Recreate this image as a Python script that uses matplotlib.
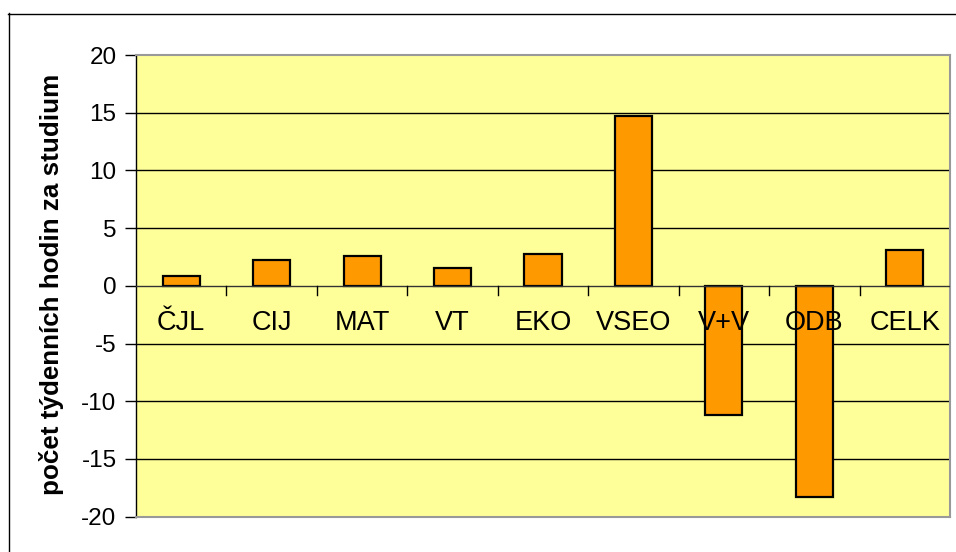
import matplotlib
matplotlib.use("Agg")
import matplotlib.pyplot as plt
from matplotlib.lines import Line2D

plt.rcParams['font.family'] = ['Liberation Sans', 'DejaVu Sans']

categories = ["ČJL", "CIJ", "MAT", "VT", "EKO", "VSEO", "V+V", "ODB", "CELK"]
values = [0.86, 2.25, 2.6, 1.55, 2.8, 14.7, -11.15, -18.3, 3.1]
yticks = [-20, -15, -10, -5, 0, 5, 10, 15, 20]
ylabel = "počet týdenních hodin za studium"

fig = plt.figure(figsize=(9.56, 5.52), dpi=100)
fig.patch.set_facecolor("white")

# outer chart frame (left and top visible)
fig.add_artist(Line2D([8.5/956, 8.5/956], [0, 1 - 13/552], color="black", lw=1.0))
fig.add_artist(Line2D([8/956, 1], [1 - 13.5/552, 1 - 13.5/552], color="black", lw=1.0))

ax = fig.add_axes([136/956, (552-516.7)/552, (950-136)/956, (516.7-55)/552])
ax.set_facecolor("#FFFF99")

x = list(range(len(categories)))
ax.set_xlim(-0.5, len(categories) - 0.5)
ax.set_ylim(-20, 20)

for g in [-15, -10, -5, 5, 10, 15]:
    ax.axhline(g, color="black", lw=1.0, zorder=1)

ax.bar(x, values, width=0.41, color="#FF9900", edgecolor="black", lw=1.6, zorder=3)

for s in ["top", "right"]:
    ax.spines[s].set_color("#999999")
    ax.spines[s].set_linewidth(1.5)
ax.spines["left"].set_color("black")
ax.spines["left"].set_linewidth(1.0)
ax.spines["bottom"].set_visible(False)
ax.add_line(Line2D([0, 1], [0, 0], transform=ax.transAxes, color="#999999", lw=1.5, clip_on=False, zorder=5))
ax.axhline(0, color="#333333", lw=1.0, zorder=4)

ax.set_yticks(yticks)
ax.set_yticklabels([str(v) for v in yticks], fontsize=17.5)
ax.tick_params(axis="y", direction="out", length=8, width=1, pad=6, colors="black")

ax.set_xticks([])
for b in [i + 0.5 for i in range(len(categories) - 1)]:
    ax.add_line(Line2D([b, b], [0, -0.75], color="black", lw=1.0, zorder=4))

for i, c in enumerate(categories):
    ax.text(i, -3.2, c, ha="center", va="center", fontsize=19.5, zorder=6)

ax.set_ylabel(ylabel, fontsize=18.7, fontweight="bold")
ax.yaxis.set_label_coords(-0.0885, 0.504)

fig.savefig("out.png", dpi=100, facecolor="white")
